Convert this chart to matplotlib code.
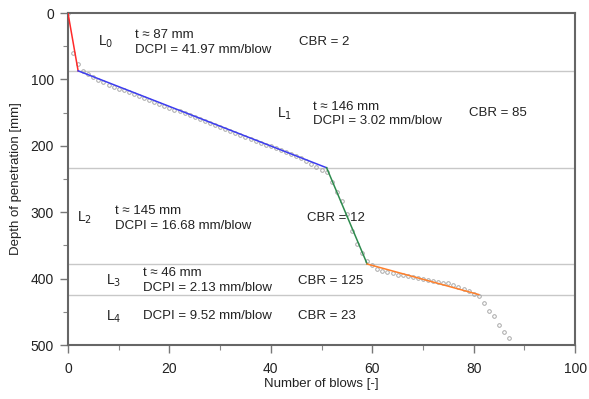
import matplotlib
matplotlib.use("Agg")
import matplotlib.pyplot as plt

plt.rcParams['font.family'] = ['Liberation Sans', 'DejaVu Sans']

# measured points (blows, depth mm)
blows = list(range(0, 88))
depth = [0, 60, 76, 88, 92, 96, 101, 104, 108, 112, 114, 116, 119, 122, 125, 128, 131, 134,
         137, 140, 143, 146, 148, 151, 154, 157, 160, 163, 166, 169, 172, 175, 178, 181,
         184, 187, 190, 193, 196, 198, 201, 204, 207, 210, 213, 216, 219, 223, 228, 232,
         236, 240, 255, 270, 283, 303, 328, 348, 362, 373, 380, 385, 388, 390, 392, 394,
         395, 396, 397, 399, 401, 402, 403, 405, 406, 407, 410, 413, 416, 419, 423, 426,
         436, 449, 457, 470, 480, 490]

# fitted layer segments
seg_blows = [0, 2, 51, 59, 81]
seg_depth = [0, 87, 233, 378, 424]
seg_colors = ['#ff2a2a', '#3c3cf0', '#2e8b4e', '#ff7f2a']

layer_bounds = [87, 233, 378, 424]

layers = ['L$_0$', 'L$_1$', 'L$_2$', 'L$_3$', 'L$_4$']
layer_text = ['t ≈ 87 mm\nDCPI = 41.97 mm/blow',
              't ≈ 146 mm\nDCPI = 3.02 mm/blow',
              't ≈ 145 mm\nDCPI = 16.68 mm/blow',
              't ≈ 46 mm\nDCPI = 2.13 mm/blow',
              'DCPI = 9.52 mm/blow']
cbr_text = ['CBR = 2', 'CBR = 85', 'CBR = 12', 'CBR = 125', 'CBR = 23']

label_pos = [(5.9, 44), (41.2, 151), (1.8, 309), (7.5, 403), (7.5, 457)]
text_pos = [(13.2, 44), (48.3, 152), (9.3, 309), (14.8, 403), (14.8, 457)]
cbr_pos = [(45.6, 44), (79.1, 151), (47.1, 309), (45.4, 403), (45.4, 457)]

fig = plt.figure(figsize=(5.89, 3.99), dpi=100)
ax = fig.add_axes([0.1154, 0.1353, 0.861, 0.832])

for b in layer_bounds:
    ax.axhline(b, color='#c8c8c8', lw=1.0, zorder=1)

ax.plot(blows, depth, linestyle='none', marker='o', ms=2.6, mfc='none',
        mec='#a8a8a8', mew=0.7, zorder=2)

for i in range(len(seg_colors)):
    ax.plot(seg_blows[i:i + 2], seg_depth[i:i + 2], color=seg_colors[i], lw=1.1, zorder=3)

for i in range(5):
    ax.text(*label_pos[i], layers[i], fontsize=10, va='center', ha='left', color='#222222')
    ax.text(*text_pos[i], layer_text[i], fontsize=9.5, va='center', ha='left',
            color='#222222', linespacing=1.3)
    ax.text(*cbr_pos[i], cbr_text[i], fontsize=9.5, va='center', ha='left', color='#222222')

ax.set_xlim(0, 100)
ax.set_ylim(500, 0)
ax.set_xticks([0, 20, 40, 60, 80, 100])
ax.set_xticks(range(10, 100, 20), minor=True)
ax.set_yticks([0, 100, 200, 300, 400, 500])
ax.set_yticks([50, 150, 250, 350, 450], minor=True)
ax.tick_params(which='major', direction='out', length=6, width=1, color='#777777',
               labelsize=10, labelcolor='#222222', pad=4)
ax.tick_params(axis='x', which='major', pad=6)
ax.tick_params(which='minor', direction='out', length=3.5, width=0.8, color='#888888')
for s in ax.spines.values():
    s.set_color('#666666')
    s.set_linewidth(1.5)

ax.set_xlabel('Number of blows [-]', fontsize=9.5, color='#222222', labelpad=2)
ax.set_ylabel('Depth of penetration [mm]', fontsize=9.5, color='#222222', labelpad=6)

fig.savefig('out.png', dpi=100)
